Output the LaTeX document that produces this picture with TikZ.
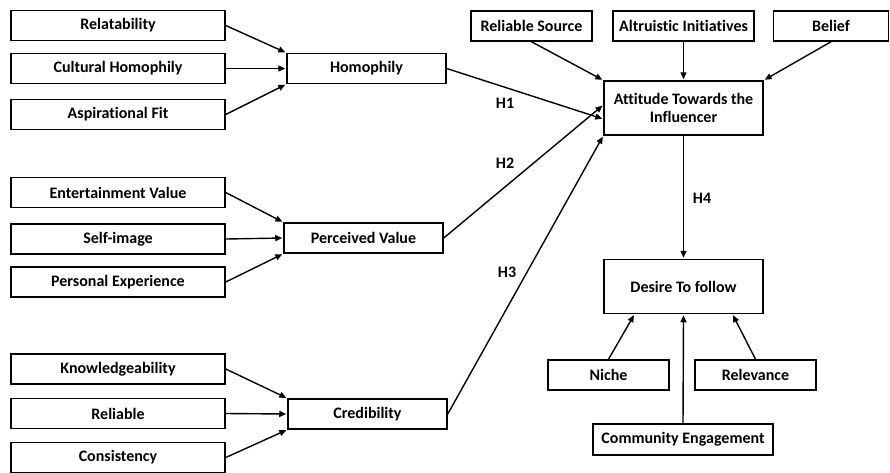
\documentclass[tikz,border=0pt]{standalone}
\usepackage{fontspec}
\setmainfont{Carlito}[Ligatures=NoCommon]
\usetikzlibrary{arrows.meta, positioning}

\begin{document}
\begin{tikzpicture}[
    x=1pt, y=-1pt,
    box/.style   = {draw=black, line width=1.5pt, fill=white, inner sep=2pt,
                    font=\bfseries\fontsize{16}{18.5}\selectfont, align=center},
    leaf/.style  = {box, minimum width=214pt, minimum height=30pt},
    hub/.style   = {box, minimum width=159pt, minimum height=30pt},
    big/.style   = {box, minimum width=159pt, minimum height=54pt},
    arr/.style   = {-{Triangle[length=7pt, width=6pt]}, line width=1.4pt, shorten >=1pt},
    hlab/.style  = {font=\bfseries\fontsize{16}{18.5}\selectfont},
]

\useasboundingbox (0,0) rectangle (890,472);

%% ---- Left column ----

\node[leaf] (rel)  at (118, 25.5)  {Relatability};
\node[leaf] (cult) at (118, 68.5)  {Cultural Homophily};
\node[leaf] (asp)  at (118, 114.5) {Aspirational Fit};

\node[leaf] (ent)  at (118, 192.5) {Entertainment Value};
\node[leaf] (self) at (118, 239)   {Self-image};
\node[leaf] (pers) at (118, 282)   {Personal Experience};

\node[leaf] (know) at (118, 369)   {Knowledgeability};
\node[leaf] (reli) at (118, 413.5) {Reliable};
\node[leaf] (cons) at (118, 457.5) {Consistency};

%% ---- Constructs ----

\node[hub] (homo) at (366.5, 68.5) {Homophily};
\node[hub] (perc) at (363.5, 238)  {Perceived Value};
\node[hub] (cred) at (367.5, 414)  {Credibility};

%% ---- Right side ----

\node[box, minimum width=121pt, minimum height=30pt] (rsrc) at (531.5, 26) {Reliable Source};
\node[box, minimum width=141pt, minimum height=30pt] (altr) at (683.5, 26) {Altruistic Initiatives};
\node[box, minimum width=115pt, minimum height=30pt] (belf) at (831, 26)   {Belief};

\node[big] (att) at (683.5, 108)   {Attitude Towards the\\Influencer};
\node[big] (des) at (683.5, 286.5) {Desire To follow};

\node[box, minimum width=121pt, minimum height=30pt] (nich) at (608.5, 375) {Niche};
\node[box, minimum width=121pt, minimum height=30pt] (relv) at (755.5, 375) {Relevance};
\node[box, minimum width=180pt, minimum height=31pt] (comm) at (683, 439.5) {Community Engagement};

%% ---- Antecedents into constructs ----

\draw[arr] (rel.east)  -- (homo.north west);
\draw[arr] (cult.east) -- (homo.west);
\draw[arr] (asp.east)  -- (homo.south west);

\draw[arr] (ent.east)  -- (perc.north west);
\draw[arr] (self.east) -- (perc.west);
\draw[arr] (pers.east) -- (perc.south west);

\draw[arr] (know.east) -- (cred.north west);
\draw[arr] (reli.east) -- (cred.west);
\draw[arr] (cons.east) -- (cred.south west);

%% ---- Hypotheses ----

\draw[arr] (homo.east) -- ([yshift=-11pt]att.west);
\draw[arr] (perc.east) -- ([yshift=3pt]att.west);
\draw[arr] (cred.east) -- (att.south west);
\draw[arr] (att.south) -- (des.north);

\node[hlab] (h1) at (505, 103) {H1};
\node[hlab] (h2) at (505, 163) {H2};
\node[hlab] (h3) at (507, 272) {H3};
\node[hlab] (h4) at (702, 198) {H4};

%% ---- Top drivers and follow drivers ----

\draw[arr] (rsrc.south) -- (att.north west);
\draw[arr] (altr.south) -- (att.north);
\draw[arr] (belf.south) -- (att.north east);

\draw[arr] (nich.north) -- ([xshift=-49pt]des.south);
\draw[arr] (comm.north) -- (des.south);
\draw[arr] (relv.north) -- ([xshift=49pt]des.south);

\end{tikzpicture}
\end{document}
